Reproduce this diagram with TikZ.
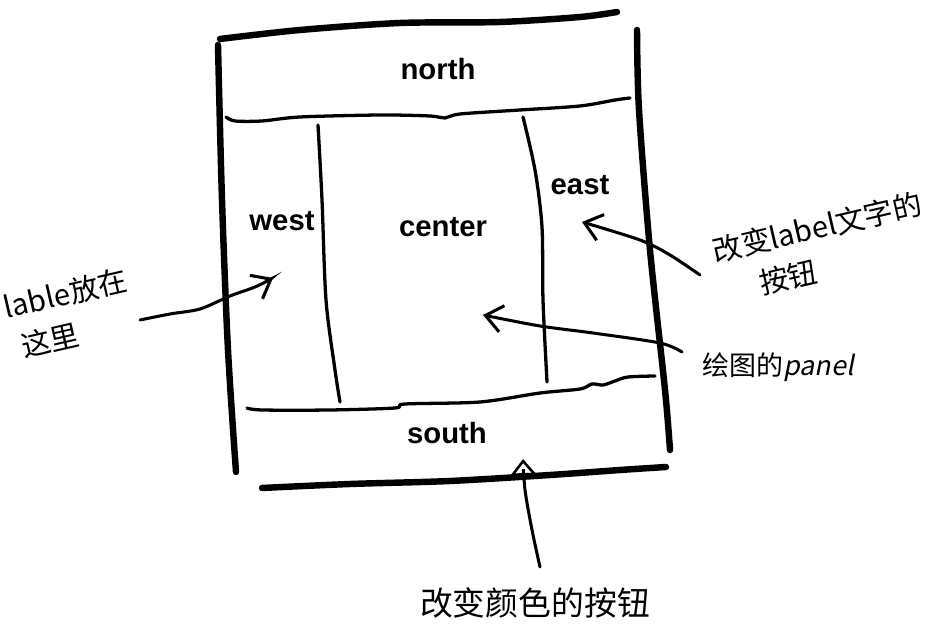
\documentclass[tikz,border=0pt]{standalone}
\usepackage{fontspec}
\setmainfont{Liberation Sans}
\newfontfamily\cjk{Noto Sans CJK SC}
\newfontfamily\cjkslant[FakeSlant=0.2]{Noto Sans CJK SC}
\usetikzlibrary{arrows.meta}

\begin{document}
\begin{tikzpicture}[
  x=0.03cm, y=0.03cm,
  frame/.style={line width=5.5pt, line cap=round, line join=round},
  split/.style={line width=2.8pt, line cap=round, line join=round},
  region/.style={font=\fontsize{25}{28}\selectfont\bfseries},
  note/.style={font=\cjk\fontsize{25}{36}\selectfont, align=left, inner sep=0pt},
  pointer/.style={line width=2.6pt, line cap=round, -{Straight Barb[length=5mm, width=8mm, line width=2.6pt]}},
  uparrow/.style={line width=2.6pt, line cap=round, -{Triangle[open, length=5mm, width=8mm, line width=2.2pt]}}
]
\useasboundingbox (0,0) rectangle (934,624);

% === outer frame ===
\draw[frame] plot[smooth] coordinates {(220,585) (300,594) (400,601) (500,602) (580,607) (617,612)};
\draw[frame] plot[smooth] coordinates {(218,579) (222,424) (228,274) (236,152)};
\draw[frame] plot[smooth] coordinates {(637,594) (639,514) (650,374) (665,234) (670,174)};
\draw[frame] plot[smooth] coordinates {(262,136) (350,140) (450,143) (550,149) (620,154) (666,157)};

% === inner splits ===
\draw[split] plot[smooth] coordinates {(226,507) (235,503) (262,503) (300,507) (380,509) (430,508) (445,506) (460,510) (520,514) (580,518) (615,524) (630,526)};
\draw[split] plot[smooth] coordinates {(318,499) (322,424) (326,324) (335,254) (340,222)};
\draw[split] plot[smooth] coordinates {(523,507) (535,454) (542,397) (543,324) (547,242)};
\draw[split] plot[smooth] coordinates {(247,216) (262,214) (330,214) (395,216) (405,220) (480,222) (540,231) (580,235) (592,240) (603,239) (615,243) (628,247) (655,248)};

% === regions ===
\node[region] (north) at (438,555) {north};
\node[region] (west) at (282,403) {west};
\node[region] (center) at (443,397) {center};
\node[region] (east) at (580,439) {east};
\node[region] (south) at (447,191) {south};

% === notes ===
\node[note, rotate=13] (lablenote) at (70,310) {lable放在\\\hspace*{0.3em}这里};
\node[note, rotate=13] (labelnote) at (822,376) {改变label文字的\\\hspace*{1.3em}按钮};
\node[note, font=\cjk\fontsize{23}{30}\selectfont] (panelnote) at (778,257) {绘图的{\cjkslant panel}};
\node[note, font=\cjk\fontsize{28}{34}\selectfont] (colornote) at (535,21) {改变颜色的按钮};

% === pointers ===
\coordinate (westTail) at (140,304);
\coordinate (westTip) at (273,346);
\coordinate (eastTail) at (700,349);
\coordinate (eastTip) at (582,402);
\coordinate (centerTail) at (682,272);
\coordinate (centerTip) at (483,309);
\coordinate (southTail) at (540,57);
\coordinate (southTip) at (523,165);

\draw[pointer] plot[smooth] coordinates {(westTail) (170,310) (200,315) (230,328) (255,337) (westTip)};
\draw[pointer] plot[smooth] coordinates {(eastTail) (670,369) (640,384) (eastTip)};
\draw[pointer] plot[smooth] coordinates {(centerTail) (660,281) (593,291) (540,298) (centerTip)};
\draw[uparrow] plot[smooth] coordinates {(southTail) (532,94) (525,134) (southTip)};

\end{tikzpicture}
\end{document}
